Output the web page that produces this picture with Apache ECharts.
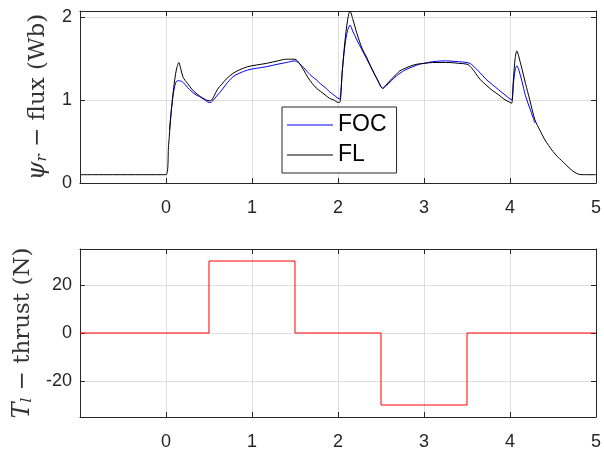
<!DOCTYPE html>
<html>
<head>
<meta charset="utf-8">
<script src="https://cdn.jsdelivr.net/npm/echarts@6/dist/echarts.min.js"></script>
<style>
html,body{margin:0;padding:0;background:#fff;}
#chart{width:604px;height:451px;}
</style>
</head>
<body>
<div id="chart"></div>
<script>
// ---- data ----
const flT = [-1, 0.0, 0.03, 0.06, 0.09, 0.12, 0.15, 0.17, 0.20, 0.25, 0.30, 0.35, 0.40, 0.45, 0.50, 0.52, 0.56, 0.60, 0.65, 0.70, 0.78, 0.85, 0.95, 1.05, 1.17, 1.30, 1.40, 1.50, 1.55, 1.60, 1.65, 1.70, 1.75, 1.80, 1.85, 1.90, 1.95, 2.00, 2.02, 2.05, 2.08, 2.11, 2.14, 2.17, 2.22, 2.28, 2.33, 2.40, 2.46, 2.52, 2.56, 2.62, 2.68, 2.72, 2.78, 2.85, 2.92, 3.00, 3.10, 3.20, 3.30, 3.40, 3.50, 3.55, 3.60, 3.65, 3.72, 3.80, 3.87, 3.93, 4.00, 4.02, 4.04, 4.06, 4.08, 4.10, 4.14, 4.18, 4.23, 4.29, 4.35, 4.40, 4.45, 4.50, 4.55, 4.60, 4.65, 4.70, 4.75, 4.80, 4.85, 5.0];
const flV = [0.10, 0.10, 0.45, 0.85, 1.15, 1.36, 1.45, 1.38, 1.27, 1.20, 1.13, 1.08, 1.04, 1.01, 0.99, 0.99, 1.05, 1.13, 1.19, 1.25, 1.32, 1.36, 1.40, 1.42, 1.44, 1.47, 1.49, 1.49, 1.44, 1.36, 1.27, 1.20, 1.14, 1.10, 1.06, 1.02, 1.00, 0.97, 0.97, 1.35, 1.70, 1.95, 2.07, 1.98, 1.80, 1.62, 1.52, 1.36, 1.24, 1.14, 1.18, 1.25, 1.31, 1.35, 1.38, 1.41, 1.43, 1.44, 1.45, 1.45, 1.45, 1.44, 1.43, 1.39, 1.32, 1.25, 1.18, 1.11, 1.06, 1.01, 0.97, 0.96, 1.25, 1.50, 1.59, 1.53, 1.37, 1.20, 1.00, 0.76, 0.63, 0.53, 0.45, 0.38, 0.32, 0.27, 0.22, 0.17, 0.13, 0.105, 0.10, 0.10];

const focT = [0.04, 0.07, 0.10, 0.13, 0.16, 0.20, 0.25, 0.30, 0.35, 0.39, 0.45, 0.50, 0.52, 0.56, 0.60, 0.65, 0.70, 0.78, 0.85, 0.95, 1.05, 1.17, 1.30, 1.40, 1.50, 1.55, 1.60, 1.65, 1.70, 1.75, 1.80, 1.85, 1.90, 1.95, 2.00, 2.02, 2.05, 2.08, 2.11, 2.14, 2.17, 2.22, 2.28, 2.33, 2.40, 2.46, 2.52, 2.56, 2.62, 2.68, 2.72, 2.78, 2.87, 2.95, 3.00, 3.10, 3.25, 3.40, 3.50, 3.55, 3.60, 3.65, 3.72, 3.80, 3.87, 3.93, 4.00, 4.02, 4.04, 4.06, 4.08, 4.10, 4.14, 4.18, 4.23, 4.29];
const focV = [0.64, 0.95, 1.16, 1.23, 1.23, 1.21, 1.15, 1.10, 1.06, 1.04, 1.00, 0.97, 0.97, 1.01, 1.06, 1.12, 1.19, 1.28, 1.32, 1.36, 1.38, 1.40, 1.43, 1.45, 1.47, 1.44, 1.39, 1.33, 1.28, 1.24, 1.19, 1.15, 1.10, 1.06, 1.02, 1.01, 1.35, 1.65, 1.83, 1.90, 1.83, 1.72, 1.60, 1.50, 1.36, 1.24, 1.14, 1.17, 1.23, 1.29, 1.32, 1.36, 1.40, 1.43, 1.44, 1.46, 1.47, 1.46, 1.45, 1.43, 1.38, 1.33, 1.25, 1.18, 1.12, 1.07, 1.01, 1.00, 1.20, 1.36, 1.41, 1.37, 1.22, 1.05, 0.90, 0.72];

const thrustT = [-1, 0.5, 0.5, 1.5, 1.5, 2.5, 2.5, 3.5, 3.5, 5];
const thrustV = [0, 0, 30, 30, 0, 0, -30, -30, 0, 0];

const xTicks = [0, 1, 2, 3, 4, 5];
const fluxTicks = [0, 1, 2];
const thrustTicks = [-20, 0, 20];
const legendNames = ['FOC', 'FL'];

// ---- chart ----
const zip = (a, b) => a.map((v, i) => [v, b[i]]);
const AX = '#262626';
const GRIDC = '#dedede';
const SERIF = 'DejaVu Serif, Liberation Serif, serif';
const tickFont = { fontFamily: 'Liberation Sans, Arial, sans-serif', fontSize: 18, color: AX };

function xAx(gi, pos, labels) {
  return {
    type: 'value', gridIndex: gi, position: pos, min: -1, max: 5,
    axisLine: { show: true, onZero: false, lineStyle: { color: AX, width: 1 } },
    axisTick: { show: true, inside: true, length: 5, customValues: xTicks, lineStyle: { color: AX } },
    axisLabel: labels ? Object.assign({ show: true, margin: 16, customValues: xTicks }, tickFont) : { show: false },
    splitLine: labels ? { show: true, customValues: xTicks, lineStyle: { color: GRIDC, width: 1 } } : { show: false }
  };
}
function yAx(gi, pos, min, max, ticks, labels, name, gap) {
  return {
    type: 'value', gridIndex: gi, position: pos, min: min, max: max,
    axisLine: { show: true, onZero: false, lineStyle: { color: AX, width: 1 } },
    axisTick: { show: true, inside: true, length: 5, customValues: ticks, lineStyle: { color: AX } },
    axisLabel: labels ? Object.assign({ show: true, margin: 8, customValues: ticks }, tickFont) : { show: false },
    splitLine: labels ? { show: true, customValues: ticks, lineStyle: { color: GRIDC, width: 1 } } : { show: false },
    name: name || '', nameLocation: 'middle', nameGap: gap || 0, nameRotate: 90,
    nameTextStyle: {
      fontFamily: SERIF, fontSize: 23, color: '#333',
      rich: {
        i: { fontFamily: SERIF, fontStyle: 'italic', fontSize: 24, color: '#333' },
        s: { fontFamily: SERIF, fontStyle: 'italic', fontSize: 15, color: '#333', padding: [9, 0, 0, 0] },
        t: { fontFamily: SERIF, fontSize: 23, color: '#333' }
      }
    }
  };
}

const chart = echarts.init(document.getElementById('chart'), null, { renderer: 'canvas' });
chart.setOption({
  animation: false,
  backgroundColor: '#fff',
  grid: [
    { left: 80, right: 6, top: 11, height: 172 },
    { left: 80, right: 6, top: 249, height: 171 }
  ],
  xAxis: [xAx(0, 'bottom', true), xAx(0, 'top', false), xAx(1, 'bottom', true), xAx(1, 'top', false)],
  yAxis: [
    yAx(0, 'left', 0, 2.07, fluxTicks, true, '{i|ψ}{s|r}{t| − flux (Wb)}', 30),
    yAx(0, 'right', 0, 2.07, fluxTicks, false),
    yAx(1, 'left', -35, 35, thrustTicks, true, '{i|T}{s|l}{t| − thrust (N)}', 44),
    yAx(1, 'right', -35, 35, thrustTicks, false)
  ],
  legend: {
    show: true, data: legendNames, orient: 'vertical', left: 282, top: 107,
    backgroundColor: '#fff', borderColor: AX, borderWidth: 1, borderRadius: 0,
    padding: [6, 10, 6, 5], itemGap: 6, itemWidth: 46, itemHeight: 1.2, icon: 'rect',
    textStyle: { fontFamily: 'Liberation Sans, Arial, sans-serif', fontSize: 23, color: '#000', lineHeight: 24 }
  },
  series: [
    { name: legendNames[0], type: 'line', xAxisIndex: 0, yAxisIndex: 0, data: zip(focT, focV), showSymbol: false, symbol: 'none', smooth: 0.3, lineStyle: { color: '#0000ff', width: 1 }, itemStyle: { color: '#0000ff' }, z: 3 },
    { name: legendNames[1], type: 'line', xAxisIndex: 0, yAxisIndex: 0, data: zip(flT, flV), showSymbol: false, symbol: 'none', smooth: 0.3, lineStyle: { color: '#000000', width: 1 }, itemStyle: { color: '#000000' }, z: 4 },
    { name: 'thrust', type: 'line', xAxisIndex: 2, yAxisIndex: 2, data: zip(thrustT, thrustV), showSymbol: false, symbol: 'none', lineStyle: { color: '#ff0000', width: 1 }, itemStyle: { color: '#ff0000' }, z: 3 }
  ]
});
</script>
</body>
</html>
